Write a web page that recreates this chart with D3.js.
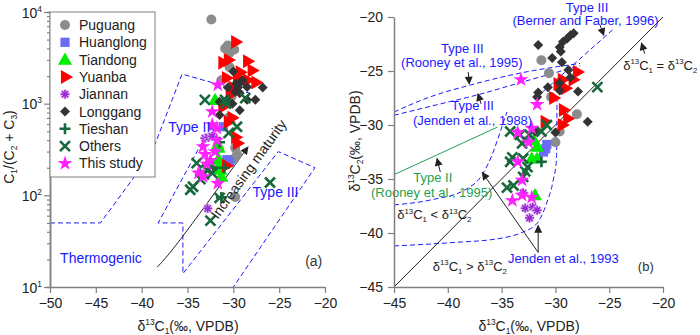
<!doctype html>
<html lang="en">
<head>
<meta charset="utf-8">
<script src="https://d3js.org/d3.v7.min.js"></script>
<style>
  body { margin: 0; background: #fff; }
  text { font-family: "Liberation Sans", Arial, sans-serif; }
</style>
</head>
<body>
<svg id="chart" width="700" height="335"></svg>
<script>
// ---- data, panel (a): [d13C1, C1/(C2+C3)] ----
var puguangA = [[-32.4,8300],[-30.9,4000],[-30.4,3600],[-29.9,3900],[-30.6,4300],[-30.4,2500],[-31.3,1800],[-30.2,1200],[-29.8,330],[-29.6,280],[-29.9,250],[-29.8,96],[-30.5,700]];
var huanglongA = [[-31.1,560],[-30.7,245],[-30.4,230]];
var tiandongA = [[-32.0,1100],[-31.7,360],[-31.6,330],[-31.6,250],[-31.4,190],[-31.3,160],[-31.6,210]];
var yuanbaA = [[-29.8,4700],[-31.2,2800],[-30.6,3000],[-28.5,2900],[-28.0,2300],[-29.3,2200],[-29.6,1900],[-28.5,1800],[-27.6,1700],[-30.1,1500],[-30.8,1900],[-31.2,920],[-30.6,630],[-29.8,430],[-29.6,370],[-30.8,210],[-30.2,700],[-30.4,1250]];
var jiannanA = [[-33.1,420],[-32.7,430],[-32.3,440],[-32.8,72],[-32.2,560]];
var longgangA = [[-30.0,2250],[-29.1,1750],[-29.5,1500],[-28.5,1520],[-30.6,1500],[-29.3,1300],[-29.8,1350],[-26.8,1500],[-27.6,1100],[-29.3,850],[-30.1,1000],[-31.5,1050],[-30.7,1100],[-31.5,750],[-28.5,1100],[-29.0,1800],[-29.7,1650]];
var tieshanA = [[-31.5,380],[-31.3,95],[-31.0,200],[-32.2,200]];
var othersA = [[-33.1,1100],[-30.9,1100],[-28.7,1150],[-29.6,560],[-30.5,480],[-34.0,225],[-34.4,124],[-33.6,150],[-32.9,190],[-32.3,175],[-34.7,115],[-31.5,94],[-32.5,53],[-26.0,138],[-33.2,170],[-30.8,1000]];
var thisStudyA = [[-31.7,1600],[-32.3,820],[-32.3,590],[-31.8,540],[-33.3,340],[-33.1,280],[-33.8,175],[-33.3,160],[-32.9,220],[-31.7,135],[-32.0,300],[-32.5,240],[-31.8,400]];

// ---- data, panel (b): [d13C1, d13C2] ----
var puguangB = [[-31.3,-24.0],[-30.6,-25.2],[-28.0,-29.0],[-29.6,-30.6],[-30.0,-31.6],[-30.4,-27.4]];
var huanglongB = [[-30.8,-31.8],[-31.1,-32.5],[-30.9,-32.2]];
var tiandongB = [[-31.7,-32.0],[-32.2,-33.1],[-31.7,-33.1],[-31.9,-36.5],[-32.0,-31.4]];
var yuanbaB = [[-28.0,-25.1],[-28.4,-25.8],[-29.4,-25.8],[-29.1,-26.6],[-30.2,-27.5],[-29.3,-28.6],[-28.9,-29.4],[-29.4,-30.0],[-31.0,-29.7],[-29.8,-26.2]];
var jiannanB = [[-32.8,-37.7],[-32.1,-37.6],[-31.7,-37.9],[-32.4,-38.6],[-33.0,-36.3],[-32.6,-31.4]];
var longgangB = [[-31.6,-22.6],[-30.3,-23.8],[-29.4,-24.2],[-29.6,-22.8],[-29.3,-22.3],[-28.9,-22.0],[-28.6,-21.7],[-28.3,-21.5],[-29.5,-23.2],[-28.8,-24.9],[-28.6,-25.6],[-27.9,-26.9],[-29.6,-26.1],[-30.7,-26.5],[-31.6,-27.0],[-31.7,-27.4],[-27.0,-29.7],[-31.9,-30.6],[-30.0,-30.7],[-29.6,-26.8]];
var tieshanB = [[-31.3,-33.4]];
var othersB = [[-34.2,-30.6],[-33.3,-30.9],[-32.4,-30.9],[-33.1,-31.7],[-31.3,-30.6],[-30.8,-30.0],[-34.0,-33.0],[-34.2,-33.4],[-33.0,-33.1],[-32.6,-33.9],[-32.8,-34.3],[-33.0,-34.8],[-34.5,-35.8],[-33.9,-35.6],[-26.1,-26.5]];
var thisStudyB = [[-33.2,-25.8],[-31.7,-28.1],[-33.5,-30.7],[-32.2,-30.3],[-33.5,-33.4],[-33.1,-35.1],[-33.1,-36.5],[-32.2,-36.7],[-34.0,-37.0],[-32.5,-31.6]];

// ---- ticks ----
var xTicksA = [-50,-45,-40,-35,-30,-25,-20];
var yTicksA = [10,100,1000,10000];
var xTicksB = [-45,-40,-35,-30,-25,-20];
var yTicksB = [-45,-40,-35,-30,-25,-20];

// ---- field boundaries (data units) ----
var thermoLine = [[-50,50],[-44.5,50],[-40.5,175],[-38.5,370],[-35.6,2100],[-28.2,1300]];
var typeFields = [[-33,450],[-38.2,50],[-35.5,50],[-35.5,14],[-25.1,300],[-21.1,200],[-30,10]];
var maturity = [[-38.3,16.5],[-35.5,36],[-28.4,337]];

var jenden93Lower = [[-45,-41.2],[-39.8,-40.9],[-35.15,-40.5],[-33.0,-39.9],[-31.7,-39.1],[-30.8,-37.2],[-30.2,-35.1],[-29.9,-33.2],[-29.85,-27.7]];
var jenden93Upper = [[-45,-37.4],[-41.4,-36.9],[-38.4,-36.0],[-36.8,-34.6],[-35.9,-32.8],[-35.15,-30.7],[-34.7,-29.35],[-34.5,-28.8]];
var rooney95III = [[-45,-28.8],[-41.65,-27.4],[-37.9,-26.3],[-33.3,-25.2],[-27.7,-24.3]];
var jenden88III = [[-45,-29.1],[-40.7,-28.05],[-37.2,-27.2],[-33.0,-26.0],[-27.7,-24.5]];
var berner96 = [[-31.7,-27.4],[-24.7,-21.2]];
var rooney95II = [[-45,-34.6],[-35.4,-30.2]];
var equalLine = [[-45,-45],[-20,-20]];
var arrowsB = [
  [[-38.1,-25.1],[-38.0,-26.2]],
  [[-36.9,-28.05],[-37.2,-27.1]],
  [[-40.7,-34.35],[-41.0,-33.1]],
  [[-25.85,-20.75],[-25.5,-21.7]],
  [[-21.7,-23.4],[-22.0,-22.4]],
  [[-31.6,-41.8],[-36.8,-34.4]],
  [[-31.6,-41.8],[-31.6,-39.3]]
];

var series = [
  {name: "Puguang", type: "circle", a: puguangA, b: puguangB},
  {name: "Huanglong", type: "square", a: huanglongA, b: huanglongB},
  {name: "Tiandong", type: "triangle", a: tiandongA, b: tiandongB},
  {name: "Yuanba", type: "right", a: yuanbaA, b: yuanbaB},
  {name: "Jiannan", type: "asterisk", a: jiannanA, b: jiannanB},
  {name: "Longgang", type: "diamond", a: longgangA, b: longgangB},
  {name: "Tieshan", type: "plus", a: tieshanA, b: tieshanB},
  {name: "Others", type: "x", a: othersA, b: othersB},
  {name: "This study", type: "star", a: thisStudyA, b: thisStudyB}
];

var svg = d3.select("#chart");
var axisColor = "#808080";
var blue = "#1a1aff";
var green = "#1fa050";
var dkgreen = "#17683a";

svg.append("defs").append("marker")
  .attr("id", "arr").attr("viewBox", "0 0 10 10")
  .attr("refX", 9).attr("refY", 5)
  .attr("markerUnits", "userSpaceOnUse")
  .attr("markerWidth", 9).attr("markerHeight", 8)
  .attr("orient", "auto")
  .append("path").attr("d", "M0,0L10,5L0,10z").attr("fill", "#222");

// scales
var xA = d3.scaleLinear().domain([-50,-20]).range([50,325]);
var yA = d3.scaleLog().domain([10,10000]).range([287,12]);
var xB = d3.scaleLinear().domain([-45,-20]).range([394,663]);
var yB = d3.scaleLinear().domain([-45,-20]).range([287,17]);

// text with sub/superscripts: parts = [[text, "sup"|"sub"|undefined], ...]
function rich(t, parts, size) {
  var cur = 0;
  parts.forEach(function(p) {
    var shift = p[1] == "sup" ? -0.42 * size : (p[1] == "sub" ? 0.22 * size : 0);
    t.append("tspan").attr("dy", shift - cur)
      .attr("font-size", p[1] ? size * 0.6 : size).text(p[0]);
    cur = shift;
  });
  return t;
}

function marker(g, type, x, y) {
  var sym = function(s, size) { return d3.symbol().type(s).size(size)(); };
  if (type == "circle") {
    g.append("circle").attr("cx", x).attr("cy", y).attr("r", 5).attr("fill", "#8c8c8c");
  } else if (type == "square") {
    g.append("path").attr("d", sym(d3.symbolSquare, 85)).attr("transform", "translate(" + x + "," + y + ")").attr("fill", "#6b6bf7");
  } else if (type == "triangle") {
    g.append("path").attr("d", sym(d3.symbolTriangle, 85)).attr("transform", "translate(" + x + "," + (y + 1) + ")").attr("fill", "#00ee00");
  } else if (type == "right") {
    g.append("path").attr("d", sym(d3.symbolTriangle, 85)).attr("transform", "translate(" + x + "," + y + ") rotate(90)").attr("fill", "#ff0000");
  } else if (type == "asterisk") {
    g.append("circle").attr("cx", x).attr("cy", y).attr("r", 5).attr("fill", "#e9c6f5").attr("opacity", 0.8);
    for (var k = 0; k < 4; k++) {
      var a = k * Math.PI / 4;
      g.append("line").attr("x1", x - 4.5 * Math.cos(a)).attr("y1", y - 4.5 * Math.sin(a))
        .attr("x2", x + 4.5 * Math.cos(a)).attr("y2", y + 4.5 * Math.sin(a))
        .attr("stroke", "#9a2bd6").attr("stroke-width", 1.6);
    }
    g.append("circle").attr("cx", x).attr("cy", y).attr("r", 2).attr("fill", "#9a2bd6");
  } else if (type == "diamond") {
    g.append("path").attr("d", sym(d3.symbolSquare, 50)).attr("transform", "translate(" + x + "," + y + ") rotate(45)").attr("fill", "#333333");
  } else if (type == "plus") {
    g.append("path").attr("d", "M" + (x - 5.5) + "," + y + "H" + (x + 5.5) + "M" + x + "," + (y - 5.5) + "V" + (y + 5.5))
      .attr("stroke", dkgreen).attr("stroke-width", 2.6);
  } else if (type == "x") {
    g.append("path").attr("d", "M" + (x - 5) + "," + (y - 5) + "L" + (x + 5) + "," + (y + 5) + "M" + (x - 5) + "," + (y + 5) + "L" + (x + 5) + "," + (y - 5))
      .attr("stroke", dkgreen).attr("stroke-width", 2.6);
  } else if (type == "star") {
    g.append("path").attr("d", sym(d3.symbolStar, 70)).attr("transform", "translate(" + x + "," + y + ")").attr("fill", "#ff22ff");
  }
}

function styleAxis(g) {
  g.select(".domain").attr("stroke", axisColor).attr("stroke-width", 1.5);
  g.selectAll(".tick line").attr("stroke", axisColor).attr("stroke-width", 1.2);
  g.selectAll(".tick text").attr("fill", "#222").attr("font-size", 14)
    .attr("font-family", "Liberation Sans, Arial, sans-serif");
}

// ================= panel (a) =================
var pa = svg.append("g");

var lineA = d3.line().x(function(d) { return xA(d[0]); }).y(function(d) { return yA(d[1]); });
pa.append("path").attr("d", lineA(thermoLine)).attr("fill", "none")
  .attr("stroke", blue).attr("stroke-width", 1).attr("stroke-dasharray", "5,3");
pa.append("path").attr("d", lineA(typeFields)).attr("fill", "none")
  .attr("stroke", blue).attr("stroke-width", 1).attr("stroke-dasharray", "5,3");

pa.append("path").attr("d", lineA.curve(d3.curveNatural)(maturity)).attr("fill", "none")
  .attr("stroke", "#222").attr("stroke-width", 1).attr("marker-end", "url(#arr)");
lineA.curve(d3.curveLinear);

series.forEach(function(s) {
  var g = pa.append("g");
  s.a.forEach(function(d) { marker(g, s.type, xA(d[0]), yA(d[1])); });
});

var matX = xA(-31.7), matY = yA(54);
pa.append("text").attr("x", matX).attr("y", matY).attr("font-size", 14).attr("fill", "#222")
  .attr("transform", "rotate(-54," + matX + "," + matY + ")").text("Increasing maturity");

pa.append("text").attr("x", xA(-37.1)).attr("y", yA(490)).attr("font-size", 14).attr("fill", blue).text("Type II");
pa.append("text").attr("x", xA(-27.9)).attr("y", yA(96)).attr("font-size", 14).attr("fill", blue).text("Type III");
pa.append("text").attr("x", xA(-48.9)).attr("y", yA(18.5)).attr("font-size", 14).attr("fill", blue).text("Thermogenic");
pa.append("text").attr("x", xA(-20.3)).attr("y", yA(16.8)).attr("text-anchor", "end").attr("font-size", 14).attr("fill", "#333").text("(a)");

// axes
var minorA = [];
[10,100,1000].forEach(function(b) { for (var m = 2; m <= 9; m++) minorA.push(b * m); });
var gyMinor = pa.append("g").attr("transform", "translate(50,0)")
  .call(d3.axisLeft(yA).tickValues(minorA).tickSize(3).tickFormat(""));
styleAxis(gyMinor);
var gy = pa.append("g").attr("transform", "translate(50,0)")
  .call(d3.axisLeft(yA).tickValues(yTicksA).tickSize(6).tickSizeOuter(0).tickFormat(""));
styleAxis(gy);
gy.selectAll(".tick").each(function(d) {
  var t = d3.select(this).append("text").attr("x", -8).attr("y", 5).attr("text-anchor", "end").attr("fill", "#222");
  rich(t, [["10"], [String(Math.round(Math.log10(d))), "sup"]], 14);
});
var gx = pa.append("g").attr("transform", "translate(0,287)")
  .call(d3.axisBottom(xA).tickValues(xTicksA).tickSize(6).tickSizeOuter(0).tickPadding(5));
styleAxis(gx);

var xlabA = pa.append("text").attr("x", 188).attr("y", 331).attr("text-anchor", "middle").attr("fill", "#222");
rich(xlabA, [["δ"], ["13", "sup"], ["C"], ["1", "sub"], ["(‰, VPDB)"]], 14);
var ylabA = pa.append("text").attr("transform", "translate(14,147) rotate(-90)").attr("text-anchor", "middle").attr("fill", "#222");
rich(ylabA, [["C"], ["1", "sub"], ["/(C"], ["2", "sub"], [" + C"], ["3", "sub"], [")"]], 14);

// legend
var lg = pa.append("g");
lg.append("rect").attr("x", 50).attr("y", 12).attr("width", 105).attr("height", 165)
  .attr("fill", "#fff").attr("stroke", axisColor).attr("stroke-width", 1);
series.forEach(function(s, i) {
  var yy = 25 + i * 17.3;
  marker(lg, s.type, 65, yy);
  lg.append("text").attr("x", 79).attr("y", yy + 5).attr("font-size", 14).attr("fill", "#222").text(s.name);
});

// ================= panel (b) =================
var pb = svg.append("g");
var lineB = d3.line().x(function(d) { return xB(d[0]); }).y(function(d) { return yB(d[1]); });

[jenden93Lower, jenden93Upper, rooney95III, jenden88III, berner96].forEach(function(l) {
  pb.append("path").attr("d", lineB.curve(d3.curveMonotoneX)(l)).attr("fill", "none")
    .attr("stroke", blue).attr("stroke-width", 1).attr("stroke-dasharray", "5,3");
});
lineB.curve(d3.curveLinear);
pb.append("path").attr("d", lineB(rooney95II)).attr("fill", "none").attr("stroke", green).attr("stroke-width", 1);
pb.append("path").attr("d", lineB(equalLine)).attr("fill", "none").attr("stroke", "#222").attr("stroke-width", 1);

series.forEach(function(s) {
  var g = pb.append("g");
  s.b.forEach(function(d) { marker(g, s.type, xB(d[0]), yB(d[1])); });
});

arrowsB.forEach(function(a) {
  pb.append("path").attr("d", lineB(a)).attr("fill", "none").attr("stroke", "#222")
    .attr("stroke-width", 1).attr("marker-end", "url(#arr)");
});

function label(txt, x, y, color, anchor) {
  return pb.append("text").attr("x", xB(x)).attr("y", yB(y)).attr("font-size", 13)
    .attr("fill", color).attr("text-anchor", anchor || "middle").text(txt);
}
label("Type III", -27.06, -19.5, blue);
label("(Berner and Faber, 1996)", -27.2, -20.78, blue);
label("Type III", -38.65, -23.3, blue);
label("(Rooney et al., 1995)", -38.7, -24.65, blue);
label("Type III", -37.7, -28.65, blue);
label("(Jenden et al., 1988)", -37.7, -30.0, blue);
label("Type II", -41.4, -35.3, green);
label("(Rooney et al., 1995)", -41.5, -36.7, green);
label("Jenden et al., 1993", -34.4, -42.8, blue, "start");
label("(b)", -21.6, -43.5, "#333");

function richLabel(parts, x, y) {
  var t = pb.append("text").attr("x", xB(x)).attr("y", yB(y)).attr("fill", "#222");
  rich(t, parts, 13);
}
richLabel([["δ"], ["13", "sup"], ["C"], ["1", "sub"], [" = δ"], ["13", "sup"], ["C"], ["2", "sub"]], -23.7, -24.9);
richLabel([["δ"], ["13", "sup"], ["C"], ["1", "sub"], [" < δ"], ["13", "sup"], ["C"], ["2", "sub"]], -44.7, -38.7);
richLabel([["δ"], ["13", "sup"], ["C"], ["1", "sub"], [" > δ"], ["13", "sup"], ["C"], ["2", "sub"]], -41.4, -43.5);

var gyB = pb.append("g").attr("transform", "translate(394,0)")
  .call(d3.axisLeft(yB).tickValues(yTicksB).tickSize(6).tickSizeOuter(0).tickPadding(5));
styleAxis(gyB);
var gxB = pb.append("g").attr("transform", "translate(0,287)")
  .call(d3.axisBottom(xB).tickValues(xTicksB).tickSize(6).tickSizeOuter(0).tickPadding(5));
styleAxis(gxB);

var xlabB = pb.append("text").attr("x", 529).attr("y", 331).attr("text-anchor", "middle").attr("fill", "#222");
rich(xlabB, [["δ"], ["13", "sup"], ["C"], ["1", "sub"], ["(‰, VPDB)"]], 14);
var ylabB = pb.append("text").attr("transform", "translate(360,141) rotate(-90)").attr("text-anchor", "middle").attr("fill", "#222");
rich(ylabB, [["δ"], ["13", "sup"], ["C"], ["2", "sub"], ["(‰, VPDB)"]], 14);
</script>
</body>
</html>
